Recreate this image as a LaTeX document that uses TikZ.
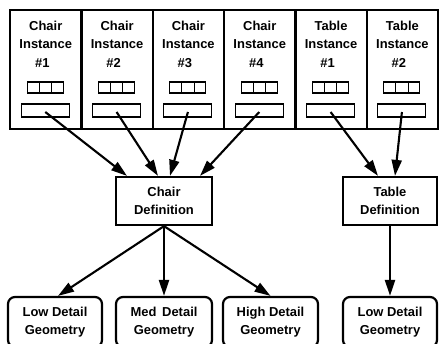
\documentclass[tikz,border=0pt]{standalone}
\usepackage{fontspec}
\setmainfont{Liberation Sans}
\usetikzlibrary{arrows.meta,calc}
\begin{document}
\begin{tikzpicture}[x=1bp,y=-1bp,
  txt/.style={font=\bfseries\fontsize{13}{18.5}\selectfont,align=center,inner sep=0pt},
  instbox/.style={draw,line width=2.2bp,minimum width=71.33bp,minimum height=119bp,inner sep=0pt,anchor=north west},
  cellbox/.style={draw,line width=1.1bp,minimum width=36bp,minimum height=11bp,inner sep=0pt},
  widebox/.style={draw,line width=1.1bp,minimum width=48bp,minimum height=13bp,inner sep=0pt},
  defbox/.style={draw,line width=2.2bp,minimum height=48bp,inner sep=0pt,txt},
  geobox/.style={draw,line width=2.2bp,rounded corners=7bp,minimum height=50bp,inner sep=0pt,txt},
  arr/.style={line width=2.1bp,-{Triangle[length=16bp,width=10bp]}}
]
\useasboundingbox (0,0) rectangle (439,343);
\clip (0,0) rectangle (439,343);
\foreach \i/\w/\n in {1/Chair/1,2/Chair/2,3/Chair/3,4/Chair/4,5/Table/1,6/Table/2} {
  \pgfmathsetmacro\xl{9+71.33*(\i-1)}
  \node[instbox] (box\i) at (\xl,9) {};
  \node[txt] (lab\i) at ($(box\i.north)+(0,35)$) {\w\\Instance\\\#\n\hspace*{7bp}};
  \node[cellbox] (cell\i) at ($(box\i.north)+(-0.5,78.5)$) {};
  \draw[line width=1.1bp] ($(cell\i.north west)!1/3!(cell\i.north east)$) -- ($(cell\i.south west)!1/3!(cell\i.south east)$);
  \draw[line width=1.1bp] ($(cell\i.north west)!2/3!(cell\i.north east)$) -- ($(cell\i.south west)!2/3!(cell\i.south east)$);
  \node[widebox] (wide\i) at ($(box\i.north)+(-0.5,101.5)$) {};
}
\node[defbox,minimum width=96bp] (cdef) at (164,201) {Chair\\Definition};
\node[defbox,minimum width=94bp] (tdef) at (390,201) {Table\\Definition};
\node[geobox,minimum width=94bp] (g1) at (55,322) {Low Detail\\Geometry};
\node[geobox,minimum width=96bp] (g2) at (164,322) {Med\ \,Detail\\Geometry};
\node[geobox,minimum width=95bp] (g3) at (270.5,322) {High Detail\\Geometry};
\node[geobox,minimum width=94bp] (g4) at (390,322) {Low Detail\\Geometry};
\draw[arr] ($(wide1.center)+(0,1.5)$) -- ($(cdef.north)+(-37,0)$);
\draw[arr] ($(wide2.center)+(0,1.5)$) -- ($(cdef.north)+(-6,0)$);
\draw[arr] ($(wide3.center)+(0,1.5)$) -- ($(cdef.north)+(6,0)$);
\draw[arr] ($(wide4.center)+(0,1.5)$) -- ($(cdef.north)+(36,0)$);
\draw[arr] ($(wide5.center)+(0,1.5)$) -- ($(tdef.north)+(-12,0)$);
\draw[arr] ($(wide6.center)+(0,1.5)$) -- ($(tdef.north)+(5,0)$);
\draw[arr] (cdef.south) -- ($(g1.north)+(3,0)$);
\draw[arr] (cdef.south) -- (g2.north);
\draw[arr] (cdef.south) -- (g3.north);
\draw[arr] (tdef.south) -- (g4.north);
\end{tikzpicture}
\end{document}
